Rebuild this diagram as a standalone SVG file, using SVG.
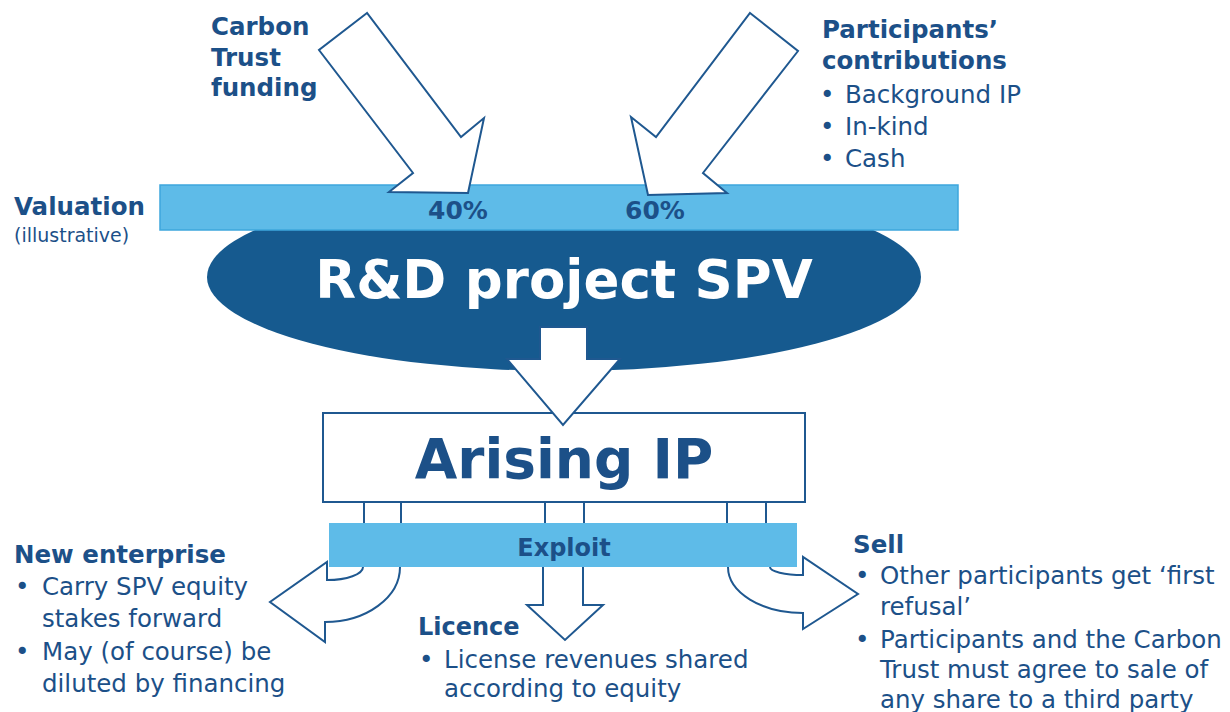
<svg xmlns="http://www.w3.org/2000/svg" width="1230" height="712" viewBox="0 0 1230 712">
<style>
.t{font-family:"DejaVu Sans",Verdana,sans-serif;fill:#1c5088}
.b{font-weight:bold}
.r{font-size:24.5px}
.out{fill:#fff;stroke:#1f5890;stroke-width:2;stroke-linejoin:miter}
.bar{fill:#5ebbe8;stroke:#3ea7dd;stroke-width:1.5}
</style>
<defs>
<clipPath id="below-bar"><rect x="0" y="200" width="1230" height="300"/></clipPath>
</defs>
<rect width="1230" height="712" fill="#fff"/>
<g id="spv">
<ellipse cx="564" cy="277" rx="357" ry="94" fill="#165a8f" clip-path="url(#below-bar)"/>
</g>
<g id="valuation-bar">
<rect class="bar" x="160" y="185" width="798" height="45"/>
<text class="t b" x="428" y="219" font-size="25">40%</text>
<text class="t b" x="625" y="219" font-size="25">60%</text>
</g>
<g id="spv-label">
<text class="b" x="564" y="298" font-size="53" text-anchor="middle" font-family="DejaVu Sans,Verdana,sans-serif" fill="#fff">R&amp;D project SPV</text>
</g>
<g id="arising">
<rect class="out" x="323" y="413" width="482" height="89"/>
<text class="t b" x="564" y="478" font-size="55" text-anchor="middle">Arising IP</text>
</g>
<g id="connectors">
<polygon class="out" points="367,13 319,50 413,173 389,192 468,193 484,118 461,137"/>
<polygon class="out" points="750,13 798,51 703,173 727,193 648,195 631,117 656,137"/>
<polygon class="out" points="540,327 587,327 587,359 620,359 563,425 507,359 540,359"/>
<rect class="out" x="364" y="502" width="37" height="30"/>
<rect class="out" x="545" y="502" width="39" height="30"/>
<rect class="out" x="727" y="502" width="39" height="30"/>
<path class="out" d="M363,560 L363,567 A36,13 0 0 1 327,580 L327,562 L270,602 L325,642 L325,622 A75,55 0 0 0 400,567 L400,560 Z"/>
<path class="out" d="M543,560 L543,605 L527,605 L565,640 L603,605 L583,605 L583,560 Z"/>
<path class="out" d="M770,560 L770,567 A33,8 0 0 0 803,575 L803,557 L858,594 L803,629 L803,613 A75,46 0 0 1 728,567 L728,560 Z"/>
</g>
<g id="exploit">
<rect x="329" y="523" width="468" height="44" fill="#5ebbe8"/>
<text class="t b" x="564" y="556" font-size="24" text-anchor="middle">Exploit</text>
</g>
<g id="carbon-trust">
<text class="t b" font-size="24.5"><tspan x="211" y="35">Carbon</tspan><tspan x="211" y="66">Trust</tspan><tspan x="211" y="96">funding</tspan></text>
</g>
<g id="participants">
<text class="t b" font-size="24.5"><tspan x="822" y="38">Participants’</tspan><tspan x="822" y="69">contributions</tspan></text>
<text class="t r"><tspan x="820" y="103">•</tspan><tspan x="845" y="103">Background IP</tspan><tspan x="820" y="135">•</tspan><tspan x="845" y="135">In-kind</tspan><tspan x="820" y="167">•</tspan><tspan x="845" y="167">Cash</tspan></text>
</g>
<g id="valuation">
<text class="t b" x="14" y="215" font-size="24.5">Valuation</text>
<text class="t" x="14" y="242" font-size="19">(illustrative)</text>
</g>
<g id="new-enterprise">
<text class="t b" x="14" y="563" font-size="24.5">New enterprise</text>
<text class="t r"><tspan x="15" y="595">•</tspan><tspan x="42" y="595">Carry SPV equity</tspan><tspan x="42" y="627">stakes forward</tspan><tspan x="15" y="660">•</tspan><tspan x="42" y="660">May (of course) be</tspan><tspan x="42" y="692">diluted by financing</tspan></text>
</g>
<g id="licence">
<text class="t b" x="418" y="635" font-size="24">Licence</text>
<text class="t r"><tspan x="419" y="668">•</tspan><tspan x="444" y="668">License revenues shared</tspan><tspan x="444" y="697">according to equity</tspan></text>
</g>
<g id="sell">
<text class="t b" x="853" y="553" font-size="24.5">Sell</text>
<text class="t r"><tspan x="855" y="584">•</tspan><tspan x="880" y="584">Other participants get ‘first</tspan><tspan x="880" y="615">refusal’</tspan><tspan x="855" y="648">•</tspan><tspan x="880" y="648">Participants and the Carbon</tspan><tspan x="880" y="678">Trust must agree to sale of</tspan><tspan x="880" y="708">any share to a third party</tspan></text>
</g>
</svg>
